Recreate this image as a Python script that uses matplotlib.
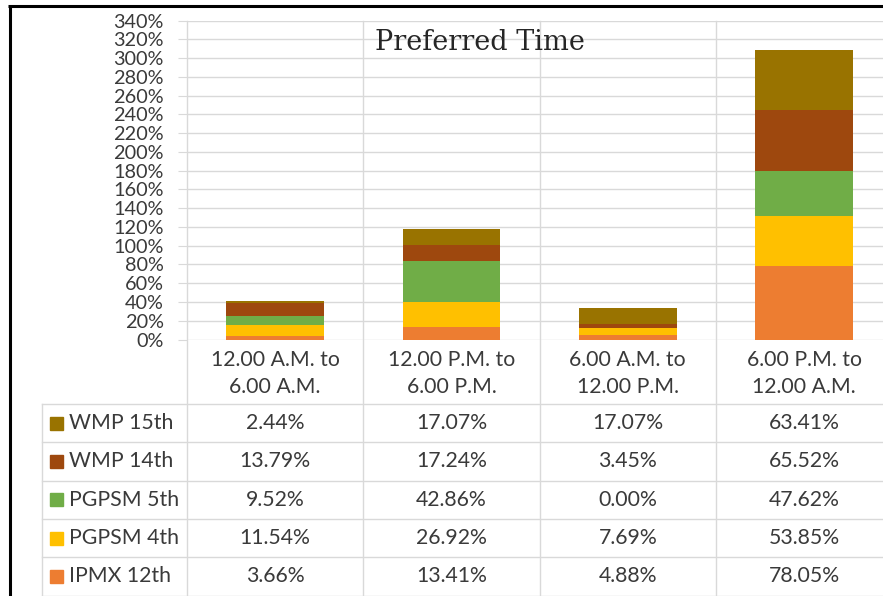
"""
Stacked bar chart with a data table underneath (Excel style).
"""
import matplotlib.pyplot as plt
import numpy as np

plt.rcParams['font.family'] = ['Lato', 'DejaVu Sans']

categories = ["12.00 A.M. to\n6.00 A.M.", "12.00 P.M. to\n6.00 P.M.",
              "6.00 A.M. to\n12.00 P.M.", "6.00 P.M. to\n12.00 A.M."]

# series, bottom of the stack first
series = ["IPMX 12th", "PGPSM 4th", "PGPSM 5th", "WMP 14th", "WMP 15th"]
ipmx_12 = [3.66, 13.41, 4.88, 78.05]
pgpsm_4 = [11.54, 26.92, 7.69, 53.85]
pgpsm_5 = [9.52, 42.86, 0.00, 47.62]
wmp_14 = [13.79, 17.24, 3.45, 65.52]
wmp_15 = [2.44, 17.07, 17.07, 63.41]
values = [ipmx_12, pgpsm_4, pgpsm_5, wmp_14, wmp_15]
colors = ["#ED7D31", "#FFC000", "#70AD47", "#9E480E", "#997300"]

y_ticks = list(range(0, 341, 20))
title = "Preferred Time"

# layout, in pixels of the 883x596 picture (y measured from the top)
W, H = 883, 596
x0, cw = 187, 176.3          # left edge of plot, width of one category
y_top, y_zero = 20.5, 339.5  # 340% and 0% lines
row_h = 38.3
y_rows = 404                 # top of the first table row
x_tab = 42                   # left edge of the table row labels
grid_col = "#d9d9d9"
txt_col = "#3a3a3a"
fs = 15.3

fig = plt.figure(figsize=(W / 100, H / 100), dpi=100)
fig.patch.set_facecolor("white")

# overlay in pixel coordinates for table lines and the frame
ov = fig.add_axes([0, 0, 1, 1], zorder=0)
ov.set_xlim(0, W)
ov.set_ylim(H, 0)
ov.axis("off")

ax = fig.add_axes([x0 / W, 1 - y_zero / H, 4 * cw / W, (y_zero - y_top) / H],
                  zorder=1)
ax.patch.set_visible(False)

x = np.arange(len(categories))
bottom = np.zeros(len(categories))
for name, vals, col in zip(series, values, colors):
    ax.bar(x, vals, 0.555, bottom=bottom, color=col, label=name, zorder=2)
    bottom += np.array(vals)

ax.set_xlim(-0.5, len(categories) - 0.5)
ax.set_ylim(0, 340)
ax.set_yticks(y_ticks)
ax.set_yticklabels([f"{t}%" for t in y_ticks])
ax.set_xticks([])
ax.tick_params(axis="y", length=6.5, width=0.8, color=grid_col, pad=10.3,
               labelsize=14.3, labelcolor=txt_col)
ax.grid(axis="y", color=grid_col, lw=1, zorder=0)
for s in ax.spines.values():
    s.set_visible(False)

ax.text(0.415, 0.93, title, transform=ax.transAxes, ha="center", va="center",
        fontsize=19.5, family="DejaVu Serif", color="#262626")

# table grid
n_rows = len(series)
for i in range(len(categories) + 1):
    ov.plot([x0 + i * cw] * 2, [y_top, H], color=grid_col, lw=1)
for r in range(n_rows + 1):
    yy = y_rows + r * row_h
    ov.plot([x_tab, W], [yy, yy], color=grid_col, lw=1)
ov.plot([x_tab, x_tab], [y_rows, H], color=grid_col, lw=1)

# category header
for i, cat in enumerate(categories):
    ov.text(x0 + (i + 0.5) * cw, (y_zero + y_rows) / 2 + 2, cat, ha="center",
            va="center", fontsize=fs, color=txt_col, linespacing=1.45)

# rows, top of the stack first
for r, (name, vals, col) in enumerate(zip(series[::-1], values[::-1],
                                          colors[::-1])):
    yc = y_rows + (r + 0.5) * row_h
    ov.add_patch(plt.Rectangle((50, yc - 6.5), 13, 13, color=col))
    ov.text(69, yc, name, ha="left", va="center", fontsize=fs, color=txt_col)
    for i, v in enumerate(vals):
        ov.text(x0 + (i + 0.5) * cw, yc, f"{v:.2f}%", ha="center",
                va="center", fontsize=fs, color=txt_col)

# outer frame (left and top)
ov.plot([9.5, 9.5], [5.5, H], color="black", lw=2.2, solid_capstyle="butt")
ov.plot([8, W], [5.5, 5.5], color="black", lw=2.2, solid_capstyle="butt")

fig.savefig("out.png", dpi=100)
